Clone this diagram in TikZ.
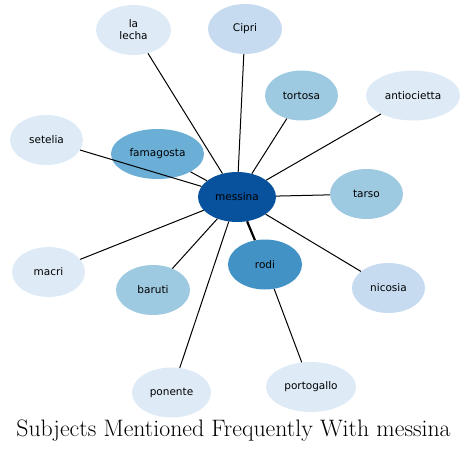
\documentclass[tikz,border=0pt]{standalone}
\usepackage{fontspec}
\newfontfamily\labelfont{DejaVu Sans}
\usetikzlibrary{shapes.geometric}
\definecolor{blueA}{HTML}{DEEBF7}
\definecolor{blueB}{HTML}{C6DBEF}
\definecolor{blueC}{HTML}{9ECAE1}
\definecolor{blueD}{HTML}{6BAED6}
\definecolor{blueE}{HTML}{4292C6}
\definecolor{blueF}{HTML}{08519C}
\begin{document}
\begin{tikzpicture}[x=1pt,y=-1pt,
    topic/.style={ellipse,inner sep=0pt,minimum height=50pt,align=center,
        font=\labelfont\fontsize{10.5}{12}\selectfont}]
\useasboundingbox (0,0) rectangle (469,452);
% Subjects
    \foreach \n/\x/\y/\w/\c/\t in {messina/237/197/78/blueF/messina,
        lalecha/133.5/30/75/blueA/{la\\lecha},cipri/245/29/74/blueB/Cipri,
        tortosa/301.5/95.5/73/blueC/tortosa,antiocietta/413/95.5/94/blueA/antiocietta,
        setelia/46.5/140/73/blueA/setelia,famagosta/157.5/154/93/blueD/famagosta,
        tarso/366.5/194/73/blueC/tarso,macri/48.5/272/73/blueA/macri,
        baruti/153/290/74/blueC/baruti,rodi/265/264.5/74/blueE/rodi,
        nicosia/388.5/288/73/blueB/nicosia,ponente/171.5/392.5/79/blueA/ponente,
        portogallo/311/387/90/blueA/portogallo}{
        \node[topic,fill=\c,minimum width=\w pt] (\n) at (\x,\y) {\t};
    }
% Links
    \foreach \n in {lalecha,cipri,tortosa,antiocietta,setelia,famagosta,
        tarso,macri,baruti,nicosia,ponente}{
        \draw[line width=1pt] (messina) -- (\n);
    }
    \draw[line width=2.2pt] (messina) -- (rodi);
    \draw[line width=1pt] (rodi) -- (portogallo);
% Title
    \node[font=\fontsize{23.8}{26}\selectfont] (title) at (233.5,431) {Subjects Mentioned Frequently With messina};
\end{tikzpicture}
\end{document}
